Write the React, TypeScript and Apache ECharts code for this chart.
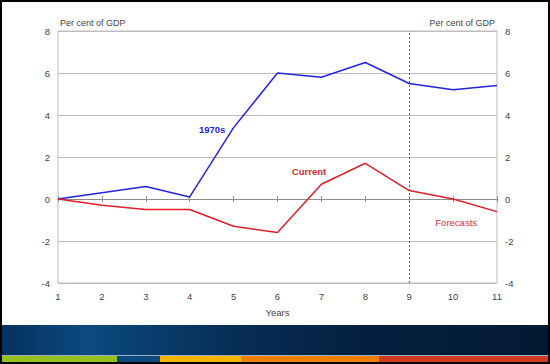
import React, { useEffect, useRef } from "react";
import * as echarts from "echarts";

const years = [1, 2, 3, 4, 5, 6, 7, 8, 9, 10, 11];
const seventies = [0, 0.3, 0.6, 0.1, 3.4, 6.0, 5.8, 6.5, 5.5, 5.2, 5.4];
const current = [0, -0.3, -0.5, -0.5, -1.3, -1.6, 0.7, 1.7, 0.4, 0.0, -0.6];
const yTicks = { min: -4, max: 8, interval: 2 };
const forecastStart = 9;
const stripe = [
  { from: 0, to: 117, color: "#95c11f" },
  { from: 117, to: 160, color: "#0d4a80" },
  { from: 160, to: 241, color: "#f7b500" },
  { from: 241, to: 379, color: "#ee7f00" },
  { from: 379, to: 550, color: "#d03a1e" },
];

const FONT = "Liberation Sans, Arial, sans-serif";
const TXT = "#444";
const FS = 9.5;

export default function App() {
  const ref = useRef<HTMLDivElement>(null);
  useEffect(() => {
    const chart = echarts.init(ref.current!, null, { renderer: "svg" });
    const pairs = (v: number[]) => years.map((x, i) => [x, v[i]]);
    const xBase = {
      type: "value" as const,
      min: 1,
      max: 11,
      interval: 1,
      splitLine: { show: false },
    };
    const option: any = {
      animation: false,
      backgroundColor: "#fff",
      textStyle: { fontFamily: FONT },
      grid: {
        left: 58,
        right: 53,
        top: 31,
        bottom: 81,
        show: true,
        borderColor: "#bdbdbd",
        borderWidth: 1,
        backgroundColor: "transparent",
      },
      xAxis: [
        {
          ...xBase,
          position: "bottom",
          axisLine: { show: false, onZero: false },
          axisTick: { show: false },
          axisLabel: { color: TXT, fontSize: FS, fontFamily: FONT, margin: 8 },
          name: "Years",
          nameLocation: "middle",
          nameGap: 24,
          nameTextStyle: { color: TXT, fontSize: FS, fontFamily: FONT },
        },
        {
          ...xBase,
          position: "bottom",
          axisLine: { show: true, onZero: true, lineStyle: { color: "#8c8c8c", width: 1 } },
          axisTick: { show: true, inside: false, length: 3, lineStyle: { color: "#8c8c8c" } },
          axisLabel: { show: false },
        },
        {
          ...xBase,
          position: "bottom",
          axisLine: { show: false, onZero: true },
          axisTick: { show: true, inside: true, length: 3, lineStyle: { color: "#8c8c8c" } },
          axisLabel: { show: false },
        },
      ],
      yAxis: [
        {
          type: "value",
          ...yTicks,
          position: "left",
          axisLine: { show: false },
          axisTick: { show: false },
          axisLabel: { color: TXT, fontSize: FS, fontFamily: FONT, margin: 8 },
          splitLine: { show: true, lineStyle: { color: "#bdbdbd", width: 1 } },
        },
        {
          type: "value",
          ...yTicks,
          position: "right",
          axisLine: { show: false },
          axisTick: { show: false },
          axisLabel: { color: TXT, fontSize: FS, fontFamily: FONT, margin: 8 },
          splitLine: { show: false },
        },
      ],
      series: [
        {
          type: "line",
          name: "1970s",
          data: pairs(seventies),
          showSymbol: false,
          lineStyle: { color: "#2323e0", width: 1.5 },
          itemStyle: { color: "#2323e0" },
          z: 3,
          markPoint: {
            symbol: "circle",
            symbolSize: 0,
            label: {
              show: true,
              position: "inside",
              formatter: "1970s",
              color: "#2323e0",
              fontWeight: "bold",
              fontSize: FS,
              fontFamily: FONT,
            },
            data: [{ coord: [4.51, 3.29] }],
          },
          markLine: {
            silent: true,
            symbol: "none",
            label: { show: false },
            lineStyle: { color: "#666", type: [2, 2], width: 1 },
            data: [{ xAxis: forecastStart }],
          },
        },
        {
          type: "line",
          name: "Current",
          data: pairs(current),
          showSymbol: false,
          lineStyle: { color: "#e01e2a", width: 1.5 },
          itemStyle: { color: "#e01e2a" },
          z: 3,
          markPoint: {
            symbol: "circle",
            symbolSize: 0,
            data: [
              {
                coord: [6.72, 1.33],
                label: {
                  show: true,
                  position: "inside",
                  formatter: "Current",
                  color: "#e01e2a",
                  fontWeight: "bold",
                  fontSize: FS,
                  fontFamily: FONT,
                },
              },
              {
                coord: [10.07, -1.14],
                label: {
                  show: true,
                  position: "inside",
                  formatter: "Forecasts",
                  color: "#e0303a",
                  fontWeight: "normal",
                  fontSize: FS,
                  fontFamily: FONT,
                },
              },
            ],
          },
        },
      ],
      graphic: [
        {
          type: "text",
          left: 60,
          top: 18,
          style: { text: "Per cent of GDP", fill: TXT, fontSize: 9, fontFamily: FONT },
        },
        {
          type: "text",
          right: 55,
          top: 18,
          style: { text: "Per cent of GDP", fill: TXT, fontSize: 9, fontFamily: FONT },
        },
        {
          type: "rect",
          shape: { x: 0, y: 325, width: 550, height: 30 },
          style: {
            fill: new echarts.graphic.LinearGradient(0, 0, 1, 0, [
              { offset: 0, color: "#05315e" },
              { offset: 0.16, color: "#0b4a80" },
              { offset: 0.4, color: "#072f58" },
              { offset: 0.7, color: "#031e3c" },
              { offset: 1, color: "#031a35" },
            ]),
          },
          z: 10,
        },
        {
          type: "rect",
          shape: { x: 0, y: 355, width: 550, height: 1 },
          style: { fill: "#9fb0c2" },
          z: 10,
        },
        ...stripe.map((s) => ({
          type: "rect",
          shape: { x: s.from, y: 356, width: s.to - s.from, height: 8 },
          style: { fill: s.color },
          z: 10,
        })),
        {
          type: "rect",
          shape: { x: 1, y: 1, width: 548, height: 362 },
          style: { fill: "none", stroke: "#000", lineWidth: 2 },
          z: 20,
        },
      ],
    };
    chart.setOption(option);
    return () => chart.dispose();
  }, []);
  return (
    <div
      ref={ref}
      style={{ position: "fixed", left: 0, top: 0, width: 550, height: 364 }}
    />
  );
}
